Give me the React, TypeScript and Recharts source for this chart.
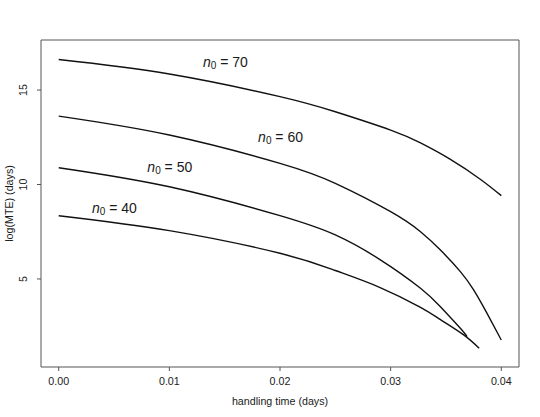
import React from "react";
import { LineChart, Line, XAxis, YAxis, ReferenceArea, ReferenceDot } from "recharts";

const xTicks = [0, 0.01, 0.02, 0.03, 0.04];
const yTicks = [5, 10, 15];

const time70 = [0, 0.01, 0.02, 0.025, 0.03, 0.0327, 0.0354, 0.0381, 0.04];
const mte70 = [16.62, 15.85, 14.65, 13.85, 12.88, 12.2, 11.33, 10.28, 9.41];

const time60 = [0, 0.01, 0.02, 0.025, 0.03, 0.0327, 0.0345, 0.0363, 0.0375, 0.0387, 0.04];
const mte60 = [13.62, 12.62, 11.12, 10.06, 8.56, 7.5, 6.53, 5.39, 4.42, 3.19, 1.77];

const time50 = [0, 0.01, 0.02, 0.025, 0.029, 0.0327, 0.0345, 0.0363, 0.0369];
const mte50 = [10.89, 9.88, 8.35, 7.33, 6.04, 4.51, 3.53, 2.39, 1.95];

const time40 = [0, 0.01, 0.02, 0.025, 0.029, 0.0327, 0.0345, 0.0366, 0.038];
const mte40 = [8.35, 7.56, 6.36, 5.45, 4.56, 3.5, 2.85, 2.04, 1.33];

const curveLabels = ["70", "60", "50", "40"];
const labelX = [0.01506, 0.02005, 0.01004, 0.00503];
const labelY = [16.5, 12.53, 10.91, 8.74];

const xDomain = [-0.0016, 0.0416];
const yDomain = [0.34, 17.65];

const toPoints = (xs: number[], ys: number[]) => xs.map((x, i) => ({ x, y: ys[i] }));

const series = [
  toPoints(time70, mte70),
  toPoints(time60, mte60),
  toPoints(time50, mte50),
  toPoints(time40, mte40),
];

const FONT = "'Liberation Sans', Arial, Helvetica, sans-serif";
const TEXT = "#1a1a1a";

const XTick = (props: any) => {
  const { x, y, payload } = props;
  return (
    <text x={x} y={y} dy="0.71em" textAnchor="middle" fontSize={10.7} fontFamily={FONT} fill={TEXT}>
      {Number(payload.value).toFixed(2)}
    </text>
  );
};

const YTick = (props: any) => {
  const { y, payload } = props;
  const bx = 27;
  return (
    <text x={bx} y={y} textAnchor="middle" fontSize={10.7} fontFamily={FONT} fill={TEXT} transform={`rotate(-90, ${bx}, ${y})`}>
      {payload.value}
    </text>
  );
};

const XTitle = (props: any) => {
  const vb = props.viewBox || {};
  const cx = vb.x + vb.width / 2;
  return (
    <text x={cx} y={405} textAnchor="middle" fontSize={10.7} fontFamily={FONT} fill={TEXT}>
      handling time (days)
    </text>
  );
};

const YTitle = (props: any) => {
  const vb = props.viewBox || {};
  const cy = vb.y + vb.height / 2;
  const bx = 13;
  return (
    <text x={bx} y={cy} textAnchor="middle" fontSize={10.7} fontFamily={FONT} fill={TEXT} transform={`rotate(-90, ${bx}, ${cy})`}>
      log(MTE) (days)
    </text>
  );
};

const makeLabelShape = (value: string) => (p: any) => (
  <text x={p.cx} y={p.cy} textAnchor="middle" dominantBaseline="central" fontSize={14} fontFamily={FONT} fill={TEXT}>
    <tspan fontStyle="italic">n</tspan>
    <tspan fontSize={10} dy={3}>0</tspan>
    <tspan dy={-3}>{" = " + value}</tspan>
  </text>
);

export default function App() {
  return (
    <div style={{ position: "absolute", left: 0, top: 0, width: 540, height: 417, background: "#fff" }}>
      <LineChart width={540} height={417} margin={{ top: 40, right: 21, left: 0, bottom: 0 }}>
        <XAxis
          dataKey="x"
          type="number"
          domain={xDomain}
          ticks={xTicks}
          allowDataOverflow
          height={50}
          tickSize={4}
          tickMargin={6}
          tick={<XTick />}
          axisLine={false}
          tickLine={{ stroke: "#555" }}
          label={<XTitle />}
        />
        <YAxis
          type="number"
          domain={yDomain}
          ticks={yTicks}
          allowDataOverflow
          width={41}
          tickSize={4}
          tickMargin={6}
          tick={<YTick />}
          axisLine={false}
          tickLine={{ stroke: "#555" }}
          label={<YTitle />}
        />
        <ReferenceArea x1={xDomain[0]} x2={xDomain[1]} y1={yDomain[0]} y2={yDomain[1]} fill="none" stroke="#555" strokeWidth={1} ifOverflow="visible" />
        {series.map((d, i) => (
          <Line
            key={curveLabels[i]}
            data={d}
            dataKey="y"
            type="natural"
            dot={false}
            stroke="#111"
            strokeWidth={1.4}
            isAnimationActive={false}
          />
        ))}
        {curveLabels.map((v, i) => (
          <ReferenceDot key={"l" + v} x={labelX[i]} y={labelY[i]} r={0} shape={makeLabelShape(v)} />
        ))}
      </LineChart>
    </div>
  );
}
